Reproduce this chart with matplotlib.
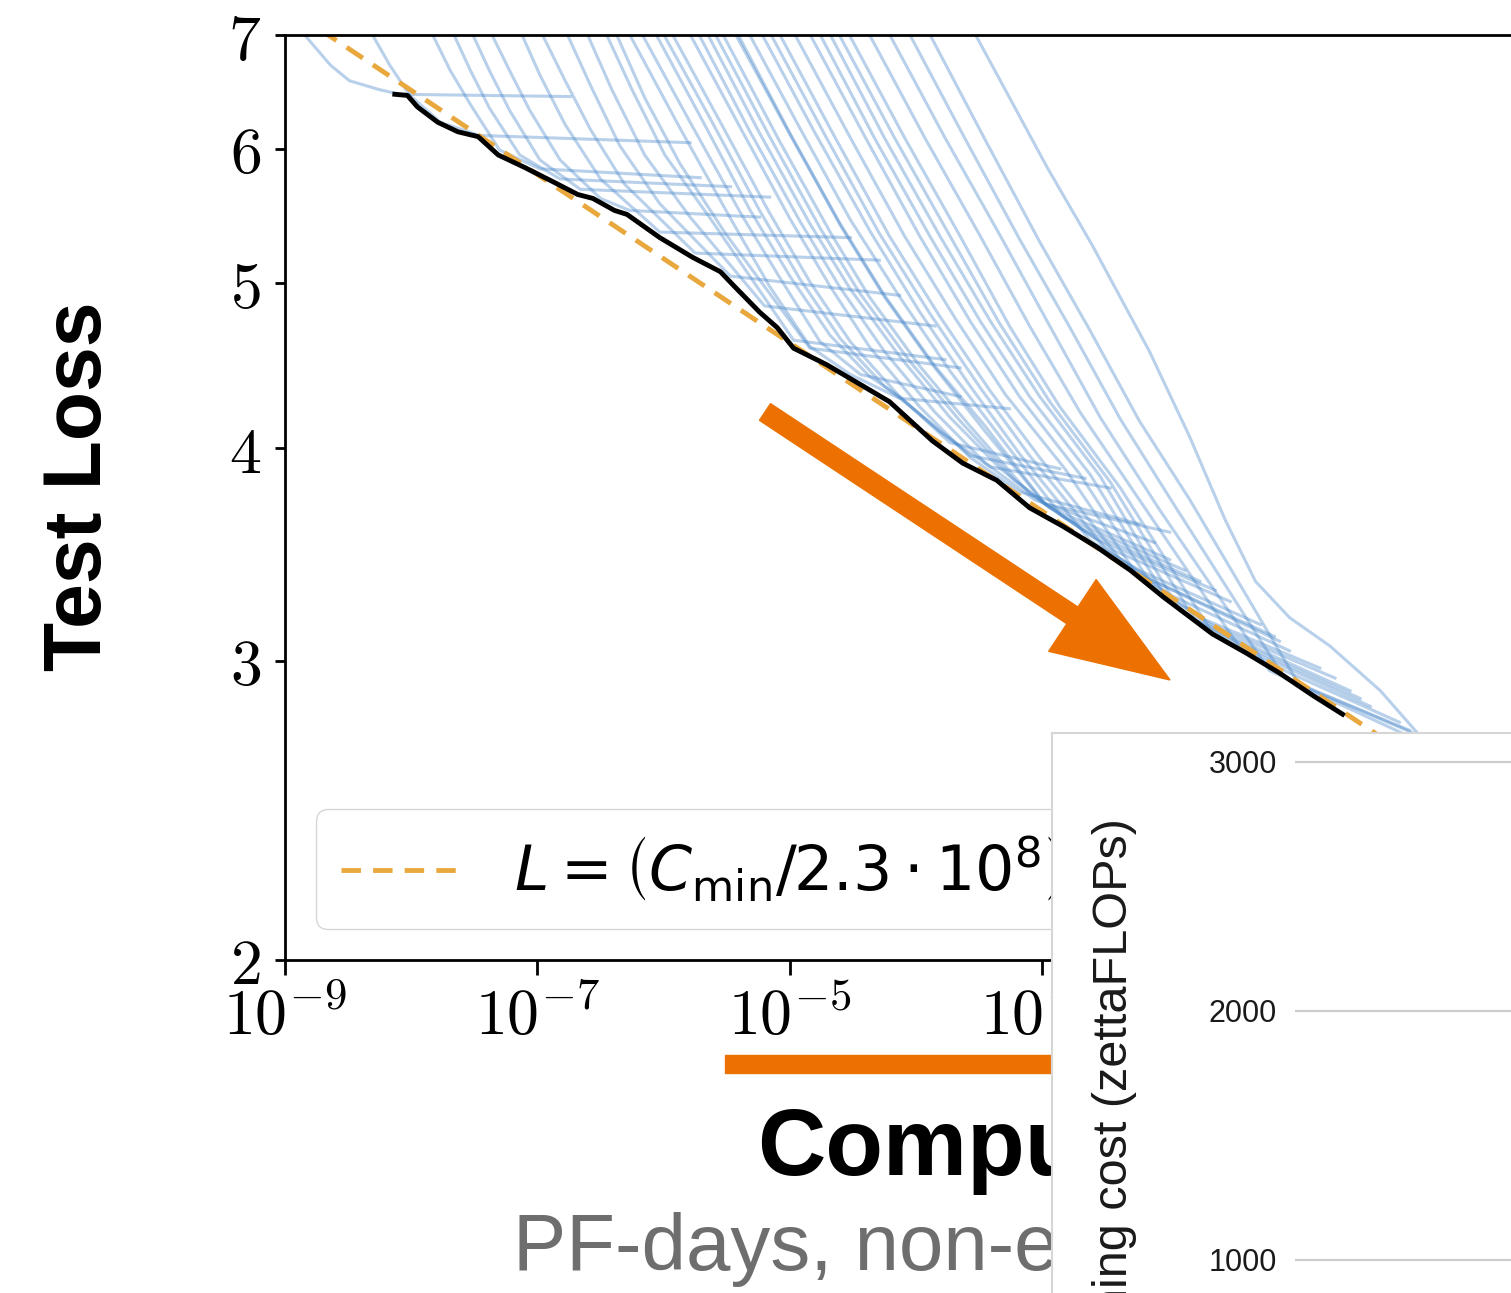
import matplotlib.pyplot as plt
from matplotlib.font_manager import FontProperties
from matplotlib.patches import FancyArrow, Rectangle
from matplotlib.ticker import NullLocator

plt.rcParams['mathtext.fontset'] = 'cm'

# learning curves: log10(compute, PF-days) and test loss
runs_logc = [
    [-8.88, -8.64, -8.49, -8.25, -8.09, -6.74],
    [-8.33, -8.17, -8.01, -7.77, -7.46, -5.79],
    [-7.85, -7.69, -7.53, -7.30, -6.98, -5.71],
    [-7.68, -7.53, -7.38, -7.14, -6.82, -5.47],
    [-7.53, -7.38, -7.22, -6.98, -6.66, -5.16],
    [-7.38, -7.22, -7.06, -6.82, -6.50, -6.27, -5.24],
    [-7.14, -6.98, -6.78, -6.50, -6.03, -4.52],
    [-6.98, -6.78, -6.58, -6.31, -5.75, -4.29],
    [-6.78, -6.58, -6.35, -6.03, -5.47, -4.13],
    [-6.62, -6.41, -6.15, -5.79, -5.20, -3.85],
    [-6.47, -6.25, -5.99, -5.63, -4.97, -3.77],
    [-6.39, -6.15, -5.87, -5.51, -4.84, -3.65],
    [-6.29, -5.87, -5.47, -5.16, -4.84, -4.52, -4.13, -3.26],
    [-6.19, -5.79, -5.39, -5.08, -4.76, -4.44, -3.65],
    [-6.08, -5.71, -5.32, -5.00, -4.68, -4.37, -4.13, -3.73, -2.86],
    [-6.02, -5.63, -5.24, -4.92, -4.60, -4.25, -3.97, -3.57, -2.66],
    [-5.95, -5.55, -5.16, -4.84, -4.52, -4.13, -3.81, -3.41, -2.46],
    [-5.81, -5.39, -5.00, -4.68, -4.37, -3.97, -3.57, -3.18, -2.23],
    [-5.74, -5.32, -4.92, -4.60, -4.25, -3.85, -3.45, -3.06, -2.11],
    [-5.67, -5.24, -4.84, -4.52, -4.13, -3.73, -3.33, -2.94, -1.99],
    [-5.61, -5.16, -4.76, -4.45, -4.05, -3.65, -3.22, -2.82, -1.87],
    [-5.55, -5.08, -4.68, -4.37, -3.97, -3.57, -3.10, -2.70, -1.75],
    [-5.45, -5.00, -4.60, -4.25, -3.85, -3.45, -2.98, -2.58, -1.63],
    [-5.43, -5.00, -4.60, -4.25, -3.85, -3.45, -2.98, -1.99],
    [-5.34, -4.92, -4.52, -4.13, -3.73, -3.33, -2.86, -2.46, -1.51],
    [-5.24, -4.80, -4.36, -3.97, -3.57, -3.18, -2.62, -2.23, -1.27],
    [-5.17, -4.72, -4.29, -3.89, -3.49, -3.10, -2.50, -2.11, -1.16],
    [-5.10, -4.64, -4.21, -3.81, -3.41, -3.02, -2.38, -1.99, -1.04],
    [-4.98, -4.52, -4.09, -3.69, -3.29, -2.82, -2.26, -1.12],
    [-4.86, -4.40, -3.97, -3.57, -3.18, -2.70, -2.15, -1.75, -0.80],
    [-4.78, -4.33, -3.89, -3.49, -3.10, -2.62, -2.03, -1.63, -0.68],
    [-4.70, -4.25, -3.81, -3.41, -3.02, -2.54, -1.91, -1.51, -0.56],
    [-4.63, -4.17, -3.73, -3.34, -2.94, -2.46, -1.79, -1.39, -0.48],
    [-4.55, -4.09, -3.65, -3.26, -2.86, -2.38, -1.67, -1.27, -0.40],
    [-4.39, -3.93, -3.49, -3.10, -2.70, -2.23, -1.43, -1.04, -0.17],
    [-4.23, -3.77, -3.33, -2.94, -2.54, -2.07, -1.20, -0.80, -0.01],
    [-4.07, -3.61, -3.18, -2.78, -2.38, -1.95, -1.08, -0.09],
    [-3.91, -3.45, -3.02, -2.62, -2.23, -1.83, -0.96, -0.01],
    [-3.55, -2.96, -2.60, -2.15, -1.83, -1.55, -1.31, -1.04, -0.72, -0.32, 0.03],
]
runs_loss = [
    [7.05, 6.72, 6.58, 6.50, 6.46, 6.44],
    [7.05, 6.72, 6.45, 6.22, 6.11, 6.05],
    [7.05, 6.67, 6.37, 5.99, 5.84, 5.77],
    [7.05, 6.67, 6.34, 5.95, 5.76, 5.70],
    [7.05, 6.67, 6.32, 5.91, 5.68, 5.62],
    [7.05, 6.67, 6.32, 5.91, 5.61, 5.52, 5.47],
    [7.05, 6.63, 6.20, 5.76, 5.36, 5.32],
    [7.05, 6.58, 6.16, 5.72, 5.21, 5.16],
    [7.05, 6.54, 6.03, 5.57, 5.05, 4.92],
    [7.05, 6.50, 5.95, 5.47, 4.85, 4.72],
    [7.05, 6.50, 5.95, 5.46, 4.63, 4.51],
    [7.05, 6.43, 5.88, 5.35, 4.58, 4.46],
    [7.05, 6.17, 5.46, 4.98, 4.59, 4.42, 4.28, 4.22],
    [7.05, 6.22, 5.50, 5.04, 4.62, 4.42, 4.29],
    [7.05, 6.27, 5.53, 5.05, 4.66, 4.41, 4.29, 4.03, 3.89],
    [7.05, 6.25, 5.52, 5.03, 4.64, 4.35, 4.19, 3.96, 3.84],
    [7.05, 6.22, 5.50, 5.01, 4.62, 4.29, 4.09, 3.90, 3.79],
    [7.05, 6.17, 5.46, 4.98, 4.59, 4.23, 3.95, 3.77, 3.61],
    [7.05, 6.15, 5.44, 4.97, 4.56, 4.20, 3.92, 3.73, 3.52],
    [7.05, 6.13, 5.42, 4.96, 4.53, 4.17, 3.89, 3.69, 3.44],
    [7.05, 6.10, 5.39, 4.94, 4.50, 4.15, 3.83, 3.64, 3.39],
    [7.05, 6.06, 5.36, 4.91, 4.47, 4.12, 3.76, 3.59, 3.34],
    [7.05, 6.12, 5.41, 4.91, 4.46, 4.09, 3.71, 3.54, 3.30],
    [7.05, 6.13, 5.42, 4.92, 4.47, 4.12, 3.71, 3.57],
    [7.05, 6.17, 5.45, 4.91, 4.44, 4.06, 3.66, 3.49, 3.25],
    [7.05, 6.13, 5.36, 4.81, 4.35, 3.97, 3.53, 3.39, 3.15],
    [7.05, 6.11, 5.35, 4.80, 4.34, 3.96, 3.49, 3.34, 3.10],
    [7.05, 6.09, 5.33, 4.78, 4.32, 3.95, 3.44, 3.28, 3.04],
    [7.05, 6.09, 5.33, 4.77, 4.30, 3.89, 3.38, 3.08],
    [7.05, 6.09, 5.33, 4.75, 4.29, 3.86, 3.34, 3.18, 2.97],
    [7.05, 6.09, 5.33, 4.75, 4.29, 3.86, 3.28, 3.14, 2.93],
    [7.05, 6.09, 5.33, 4.75, 4.29, 3.85, 3.21, 3.10, 2.88],
    [7.05, 6.09, 5.33, 4.74, 4.26, 3.82, 3.17, 3.06, 2.85],
    [7.05, 6.09, 5.33, 4.72, 4.23, 3.79, 3.13, 3.02, 2.82],
    [7.05, 6.09, 5.33, 4.72, 4.20, 3.73, 3.05, 2.95, 2.76],
    [7.05, 6.09, 5.33, 4.72, 4.17, 3.68, 2.96, 2.87, 2.71],
    [7.05, 6.08, 5.31, 4.71, 4.16, 3.70, 2.93, 2.73],
    [7.05, 6.07, 5.29, 4.69, 4.15, 3.73, 2.90, 2.69],
    [7.05, 5.85, 5.26, 4.56, 4.06, 3.63, 3.34, 3.18, 3.06, 2.88, 2.69],
]

# compute-efficient frontier (black)
frontier_logc = [-8.13, -8.03, -7.95, -7.79, -7.63, -7.47, -7.31, -7.10, -6.88, -6.68,
                 -6.56, -6.39, -6.29, -6.03, -5.77, -5.55, -5.45, -5.24, -5.10, -4.97,
                 -4.71, -4.44, -4.21, -3.87, -3.63, -3.36, -3.10, -2.84, -2.57, -2.30,
                 -2.04, -1.65, -1.38, -1.12, -0.85, -0.62]
frontier_loss = [6.46, 6.45, 6.35, 6.22, 6.14, 6.10, 5.95, 5.85, 5.74, 5.64,
                 5.61, 5.52, 5.49, 5.32, 5.18, 5.08, 4.99, 4.81, 4.71, 4.58,
                 4.48, 4.36, 4.26, 4.04, 3.92, 3.83, 3.69, 3.60, 3.50, 3.39,
                 3.27, 3.11, 3.03, 2.95, 2.86, 2.79]

# power-law fit (orange dashed)
fit_logc = [-8.72, -0.30]
fit_loss = [7.05, 2.70]
fit_label = r'$L = \left(C_{\rm min}/2.3\cdot 10^{8}\right)^{-0.050}$'

xtick_exp = [-9, -7, -5, -3, -1, 1]
ytick_vals = [2, 3, 4, 5, 6, 7]
cost_ticks = [1000, 2000, 3000]

W, H = 15.11, 12.93
fig = plt.figure(figsize=(W, H), dpi=100)
inch = fig.dpi_scale_trans

ax = fig.add_axes([2.85 / W, 3.33 / H, 12.62 / W, 9.25 / H])
ax.set_xscale('log')
ax.set_yscale('log')

for lc, ls in zip(runs_logc, runs_loss):
    ax.plot([10.0 ** v for v in lc], ls, color=(0.27, 0.52, 0.79), alpha=0.38,
            lw=2.2, zorder=1, solid_joinstyle='round')
ax.plot([10.0 ** v for v in fit_logc], fit_loss, ls='--', dashes=(4, 2.5),
        color='#e9a83e', lw=3.5, zorder=2, label=fit_label)
ax.plot([10.0 ** v for v in frontier_logc], frontier_loss, color='black', lw=3.5,
        zorder=3)

ax.set_xlim(1e-9, 1e1)
ax.set_ylim(2, 7)
ax.set_xticks([10.0 ** e for e in xtick_exp], [rf'$10^{{{e}}}$' for e in xtick_exp])
ax.set_yticks(ytick_vals, [f'${v}$' for v in ytick_vals])
ax.xaxis.set_minor_locator(NullLocator())
ax.yaxis.set_minor_locator(NullLocator())
ax.tick_params(axis='both', labelsize=46, width=2)
ax.tick_params(axis='x', length=11, pad=8)
ax.tick_params(axis='y', length=7.5, pad=10)
for s in ax.spines.values():
    s.set_linewidth(2)

ax.legend(loc='lower left', prop=FontProperties(size=44.5, math_fontfamily='dejavusans'))

ax.text(0.80, 8.07, 'Test Loss', transform=inch, rotation=90, ha='center', va='center',
        fontsize=58, fontweight='bold', family='Liberation Sans')
ax.text(7.57, 1.18, 'Compute', transform=inch, ha='left', va='baseline',
        fontsize=68, fontweight='bold', family='Liberation Sans', clip_on=False)
ax.text(5.13, 0.23, 'PF-days, non-embedding', transform=inch, ha='left', va='baseline',
        fontsize=57.5, color='#6e6e6e', family='Liberation Sans', clip_on=False)

bar = Rectangle((7.25, 2.20), 4.5, 0.18, transform=inch, color='#ec7100', clip_on=False)
ax.add_artist(bar)

arrow = FancyArrow(7.65, 8.81, 4.05, -2.68, width=0.20, head_width=0.86,
                   head_length=1.17, length_includes_head=True, color='#ec7100',
                   transform=inch)
fig.add_artist(arrow)

# overlapping panel of the second chart
panel = fig.add_axes([10.52 / W, 0, (W - 10.52) / W, 5.60 / H], zorder=4)
panel.set_facecolor('white')
panel.set_xticks([])
panel.set_yticks([])
for side in ['right', 'bottom']:
    panel.spines[side].set_visible(False)
for side in ['left', 'top']:
    panel.spines[side].set_color('#d6d6d6')
    panel.spines[side].set_linewidth(1.5)
panel.text(11.27, 4.75, 'Training cost (zettaFLOPs)', transform=inch, rotation=90,
           rotation_mode='anchor', ha='right', va='baseline', fontsize=35,
           family='Liberation Sans', color='#1a1a1a', clip_on=False)

ax_in = fig.add_axes([12.95 / W, 0, (W - 12.95) / W, 5.60 / H], zorder=5)
ax_in.patch.set_alpha(0)
ax_in.set_ylim(867, 3116)
ax_in.set_xticks([])
ax_in.set_yticks(cost_ticks, [str(t) for t in cost_ticks], fontsize=22,
                 family='Liberation Sans', color='#1a1a1a')
ax_in.tick_params(axis='y', length=0, pad=13)
ax_in.yaxis.grid(True, color='#cccccc', lw=1.6)
for s in ax_in.spines.values():
    s.set_visible(False)

fig.savefig('out.png', dpi=100)
